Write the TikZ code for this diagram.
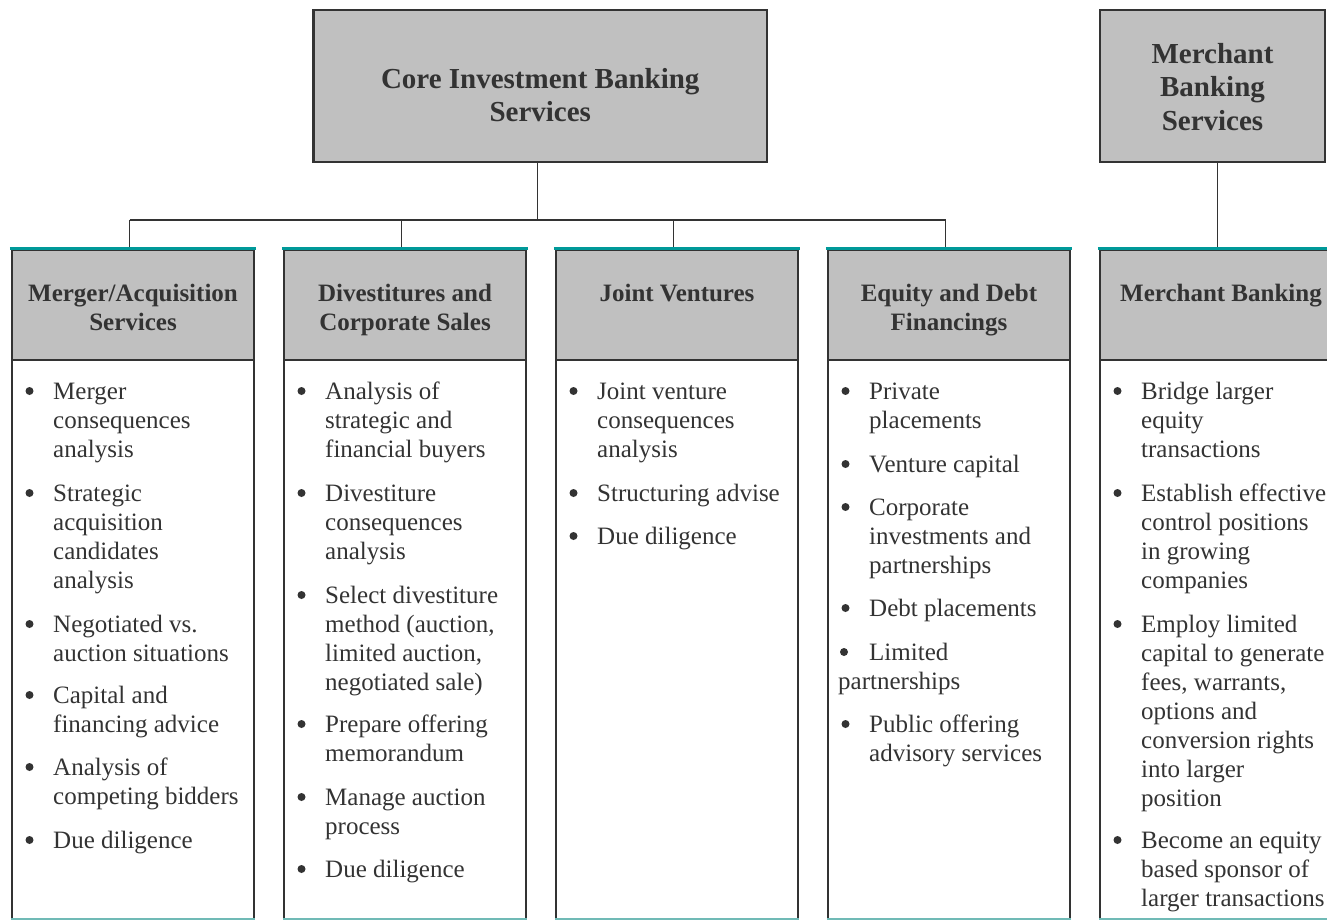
\documentclass[tikz,border=0pt]{standalone}
\usepackage{fontspec}
\setmainfont{Liberation Serif}
\definecolor{boxgray}{RGB}{192,192,192}
\definecolor{inkgray}{RGB}{51,51,51}
\definecolor{tealrule}{RGB}{0,153,153}
\definecolor{tealfade}{RGB}{112,186,182}

% bullet item: left x of column, first baseline y, name, lines
\newcommand{\bitem}[4]{%
  \node[bulletmark] (#3-b) at (#1+17.5,#2-8) {};
  \node[itemtext] (#3) at (#1+41,#2-20.3) {\strut #4};
}

\begin{document}
\begin{tikzpicture}[x=1pt,y=1pt,yscale=-1,
  topbox/.style={draw=inkgray,line width=2.4pt,fill=boxgray,minimum height=152pt,inner sep=0pt},
  headbox/.style={draw=inkgray,line width=2.4pt,fill=boxgray,minimum width=242pt,minimum height=110pt,inner sep=0pt},
  bodybox/.style={draw=inkgray,line width=2.4pt,minimum width=242pt,minimum height=565pt,inner sep=0pt},
  toptitle/.style={text=inkgray,font=\bfseries\fontsize{29}{33.5}\selectfont,align=center,inner sep=0pt,anchor=north},
  headtitle/.style={text=inkgray,font=\bfseries\fontsize{25}{29}\selectfont,align=center,inner sep=0pt,anchor=north},
  itemtext/.style={text=inkgray,font=\fontsize{25}{29}\selectfont,align=left,inner sep=0pt,anchor=north west},
  bulletmark/.style={circle,fill=inkgray,minimum size=8pt,inner sep=0pt},
  link/.style={draw=inkgray,line width=1.3pt},
  tealtop/.style={draw=tealrule,line width=2.8pt},
  tealbottom/.style={draw=tealfade,line width=2pt}]
\useasboundingbox (0,0) rectangle (1327,920);

%Shape: Rectangle
\node[topbox,minimum width=453.5pt] (core) at (540.25,86) {};
\node[toptitle] (core-t) at (540.25,88-23.45) {\strut Core Investment Banking\\Services};
%Shape: Rectangle
\node[topbox,minimum width=225pt] (mbtop) at (1212.5,86) {};
\node[toptitle] (mbtop-t) at (1212.5,63-23.45) {\strut Merchant\\Banking\\Services};

%Straight Lines
\coordinate (bus) at (537,220);
\draw[link] ([xshift=-3pt]core.south) -- ([xshift=-3pt]core.south |- bus);

%Shape: Rectangle -- five columns
\node[bodybox] (bma) at (133,642.5) {};
\node[bodybox] (bdv) at (405,642.5) {};
\node[bodybox] (bjv) at (677,642.5) {};
\node[bodybox] (bed) at (949,642.5) {};
\node[bodybox] (bmb) at (1221,642.5) {};
\node[headbox] (hma) at (133,305) {};
\node[headbox] (hdv) at (405,305) {};
\node[headbox] (hjv) at (677,305) {};
\node[headbox] (hed) at (949,305) {};
\node[headbox] (hmb) at (1221,305) {};

%Straight Lines
\draw[link] ([xshift=-3.5pt]hma.north |- bus) -- ([xshift=-3.5pt]hed.north |- bus);
\foreach \h in {hma,hdv,hjv,hed}
  \draw[link] ([xshift=-3.5pt]\h.north |- bus) -- ([xshift=-3.5pt]\h.north);
\draw[link] ([xshift=-3.5pt]hmb.north |- mbtop.south) -- ([xshift=-3.5pt]hmb.north);

\foreach \h/\b in {hma/bma,hdv/bdv,hjv/bjv,hed/bed,hmb/bmb}{
  \draw[tealtop] ([xshift=-1pt]\h.north west) -- ([xshift=1pt]\h.north east);
  \draw[tealbottom] (\b.west |- 0,919) -- (\b.east |- 0,919);
}

\node[headtitle] (hma-t) at (133,301-20.3) {\strut Merger/Acquisition\\Services};
\node[headtitle] (hdv-t) at (405,301-20.3) {\strut Divestitures and\\Corporate Sales};
\node[headtitle] (hjv-t) at (677,301-20.3) {\strut Joint Ventures};
\node[headtitle] (hed-t) at (949,301-20.3) {\strut Equity and Debt\\Financings};
\node[headtitle] (hmb-t) at (1221,301-20.3) {\strut Merchant Banking};

% Merger/Acquisition
\bitem{12}{399}{ma1}{Merger\\consequences\\analysis}
\bitem{12}{501}{ma2}{Strategic\\acquisition\\candidates\\analysis}
\bitem{12}{632}{ma3}{Negotiated vs.\\auction situations}
\bitem{12}{703}{ma4}{Capital and\\financing advice}
\bitem{12}{775}{ma5}{Analysis of\\competing bidders}
\bitem{12}{848}{ma6}{Due diligence}

% Divestitures
\bitem{284}{399}{dv1}{Analysis of\\strategic and\\financial buyers}
\bitem{284}{501}{dv2}{Divestiture\\consequences\\analysis}
\bitem{284}{603}{dv3}{Select divestiture\\method (auction,\\limited auction,\\negotiated sale)}
\bitem{284}{732}{dv4}{Prepare offering\\memorandum}
\bitem{284}{805}{dv5}{Manage auction\\process}
\bitem{284}{877}{dv6}{Due diligence}

% Joint ventures
\bitem{556}{399}{jv1}{Joint venture\\consequences\\analysis}
\bitem{556}{501}{jv2}{Structuring advise}
\bitem{556}{544}{jv3}{Due diligence}

% Equity and debt
\bitem{828}{399}{ed1}{Private\\placements}
\bitem{828}{472}{ed2}{Venture capital}
\bitem{828}{515}{ed3}{Corporate\\investments and\\partnerships}
\bitem{828}{616}{ed4}{Debt placements}
\node[bulletmark] (ed5-b) at (844,652) {};
\node[itemtext] (ed5) at (838,660-20.3) {\strut\hspace*{31pt}Limited\\partnerships};
\bitem{828}{732}{ed6}{Public offering\\advisory services}

% Merchant banking
\bitem{1100}{399}{mb1}{Bridge larger\\equity\\transactions}
\bitem{1100}{501}{mb2}{Establish effective\\control positions\\in growing\\companies}
\bitem{1100}{632}{mb3}{Employ limited\\capital to generate\\fees, warrants,\\options and\\conversion rights\\into larger\\position}
\bitem{1100}{848}{mb4}{Become an equity\\based sponsor of\\larger transactions}

\end{tikzpicture}
\end{document}
